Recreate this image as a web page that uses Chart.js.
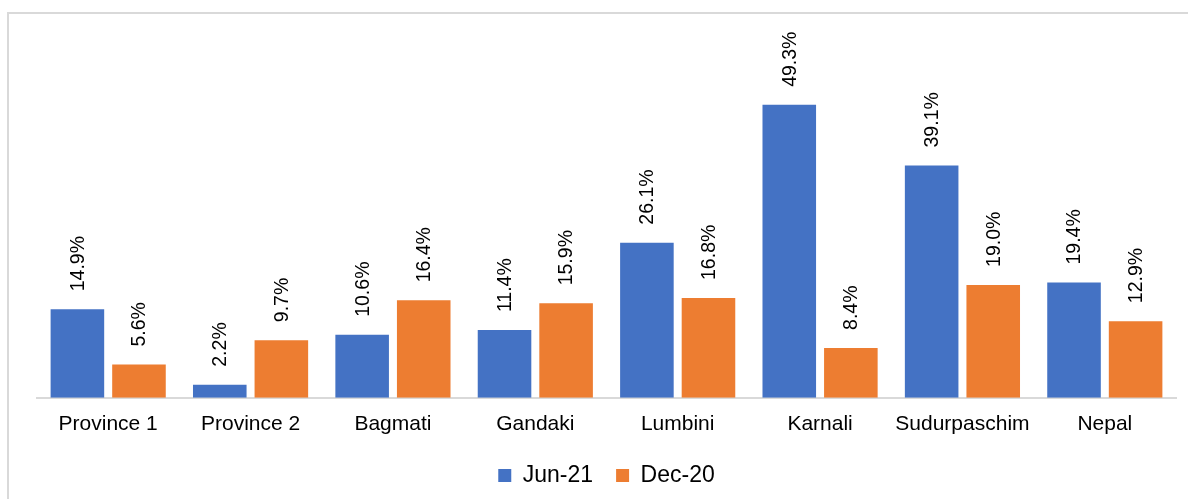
<!DOCTYPE html>
<html>
<head>
<meta charset="utf-8">
<script src="https://cdn.jsdelivr.net/npm/chart.js@4/dist/chart.umd.min.js"></script>
<style>
  html, body { margin: 0; padding: 0; background: #ffffff; }
  #wrap { width: 1188px; height: 499px; position: relative; }
</style>
</head>
<body>
<div id="wrap"><canvas id="chart"></canvas></div>
<script>
// Chart data
const categories = [ 'Province 1', 'Province 2', 'Bagmati', 'Gandaki', 'Lumbini', 'Karnali', 'Sudurpaschim', 'Nepal' ];
const jun21 = [ 14.9, 2.2, 10.6, 11.4, 26.1, 49.3, 39.1, 19.4 ];
const dec20 = [ 5.6, 9.7, 16.4, 15.9, 16.8, 8.4, 19.0, 12.9 ];
const seriesNames = [ 'Jun-21', 'Dec-20' ];

const FONT = '"Liberation Sans", Arial, sans-serif';

// Gray frame at top/left like the source image
const framePlugin = {
    id: 'frame',
    beforeDraw ( chart )
    {
        const ctx = chart.ctx;
        ctx.save();
        ctx.fillStyle = '#ffffff';
        ctx.fillRect( 0, 0, chart.width, chart.height );
        ctx.strokeStyle = '#d9d9d9';
        ctx.lineWidth = 2;
        ctx.strokeRect( 8, 13, chart.width + 10, chart.height + 10 );
        ctx.restore();
    }
};

// Rotated value labels above each bar
const valueLabels = {
    id: 'valueLabels',
    afterDatasetsDraw ( chart )
    {
        const ctx = chart.ctx;
        ctx.save();
        ctx.font = '19.5px ' + FONT;
        ctx.fillStyle = '#000000';
        ctx.textAlign = 'left';
        ctx.textBaseline = 'middle';
        chart.data.datasets.forEach( ( ds, i ) =>
        {
            chart.getDatasetMeta( i ).data.forEach( ( bar, j ) =>
            {
                ctx.save();
                ctx.translate( bar.x + 1, bar.y - 18 );
                ctx.rotate( -Math.PI / 2 );
                ctx.fillText( ds.data[ j ].toFixed( 1 ) + '%', 0, 0 );
                ctx.restore();
            } );
        } );
        ctx.restore();
    }
};

new Chart( document.getElementById( 'chart' ), {
    type: 'bar',
    data: {
        labels: categories,
        datasets: [
            { label: seriesNames[ 0 ], data: jun21, backgroundColor: '#4472c4' },
            { label: seriesNames[ 1 ], data: dec20, backgroundColor: '#ed7d31' }
        ]
    },
    options: {
        responsive: true,
        maintainAspectRatio: false,
        animation: false,
        categoryPercentage: 0.865,
        barPercentage: 0.87,
        layout: { padding: { left: 37, right: 12, top: 71, bottom: 2 } },
        plugins: {
            legend: {
                position: 'bottom',
                labels: {
                    boxWidth: 13,
                    boxHeight: 13,
                    padding: 23,
                    color: '#000000',
                    font: { family: FONT, size: 23 }
                }
            },
            tooltip: { enabled: false }
        },
        scales: {
            x: {
                grid: { display: false, drawTicks: false },
                border: { display: true, color: '#d9d9d9', width: 2 },
                ticks: {
                    color: '#000000',
                    padding: 14,
                    maxRotation: 0,
                    font: { family: FONT, size: 21 }
                },
                afterFit ( scale )
                {
                    scale.height -= 10;
                }
            },
            y: {
                display: false,
                min: 0,
                max: 55
            }
        }
    },
    plugins: [ framePlugin, valueLabels ]
} );
</script>
</body>
</html>
